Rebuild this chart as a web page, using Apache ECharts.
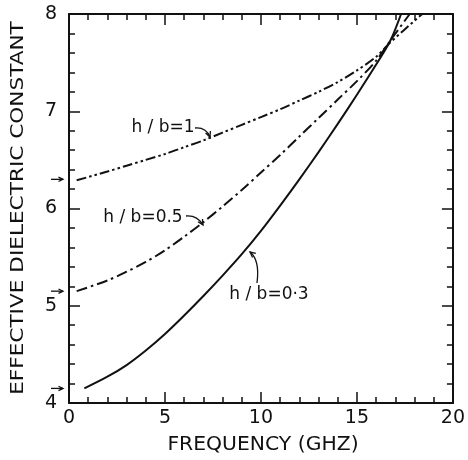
<!DOCTYPE html>
<html>
<head>
<meta charset="utf-8">
<script src="https://cdn.jsdelivr.net/npm/echarts@6/dist/echarts.min.js"></script>
<style>html,body{margin:0;padding:0;background:#fff}#c{width:468px;height:460px}</style>
</head>
<body>
<div id="c"></div>
<script>
// ---- data ----
var freq03 = [0.8, 2, 3, 4, 5, 6, 7, 8, 9, 10, 11, 12, 13, 14, 15, 16, 16.75, 17.3];
var eps03  = [4.15, 4.27, 4.39, 4.54, 4.71, 4.90, 5.10, 5.31, 5.53, 5.77, 6.03, 6.30, 6.58, 6.87, 7.17, 7.48, 7.73, 8.0];
var freq05 = [0.4, 2, 3, 4, 5, 6, 7, 8, 9, 10, 11, 12, 13, 14, 15, 16, 16.75, 17.75];
var eps05  = [5.15, 5.26, 5.35, 5.45, 5.57, 5.71, 5.86, 6.02, 6.19, 6.37, 6.55, 6.74, 6.93, 7.12, 7.31, 7.52, 7.73, 8.0];
var freq1  = [0.4, 2, 3, 4, 5, 6, 7, 8, 9, 10, 11, 12, 13, 14, 15, 16, 16.75, 18.4];
var eps1   = [6.29, 6.38, 6.44, 6.50, 6.56, 6.63, 6.70, 6.78, 6.86, 6.94, 7.02, 7.11, 7.20, 7.30, 7.42, 7.56, 7.71, 8.0];
var staticValues = [6.3, 5.15, 4.15];   // arrows on the y axis (zero-frequency limits)
var xTicks = [0, 5, 10, 15, 20];
var yTicks = [4, 5, 6, 7, 8];
var seriesNames = ['h / b=0·3', 'h / b=0.5', 'h / b=1'];

function zip(a, b) { return a.map(function (v, i) { return [v, b[i]]; }); }

var INK = '#111';
var FONT = 'DejaVu Sans';
var chart = echarts.init(document.getElementById('c'), null, { renderer: 'canvas' });

function axisCommon() {
  return {
    axisLine: { show: true, onZero: false, lineStyle: { color: INK, width: 2 } },
    axisTick: { show: true, inside: true, length: 11, lineStyle: { color: INK, width: 1.5 } },
    minorTick: { show: true, splitNumber: 5, length: 6, lineStyle: { color: INK, width: 1.5 } },
    splitLine: { show: false },
    minorSplitLine: { show: false }
  };
}

var option = {
  animation: false,
  backgroundColor: '#fff',
  grid: { left: 69, right: 10, top: 14, bottom: 57, containLabel: false },
  xAxis: [
    Object.assign({}, axisCommon(), {
      type: 'value', min: xTicks[0], max: xTicks[xTicks.length - 1], interval: 5, position: 'bottom',
      axisLabel: { show: true, margin: 6, color: INK, fontFamily: FONT, fontSize: 19,
        formatter: function (v) { return xTicks.indexOf(v) >= 0 ? String(v) : ''; } }
    }),
    Object.assign({}, axisCommon(), {
      type: 'value', min: xTicks[0], max: xTicks[xTicks.length - 1], interval: 5, position: 'top',
      axisLabel: { show: false }
    })
  ],
  yAxis: [
    Object.assign({}, axisCommon(), {
      type: 'value', min: yTicks[0], max: yTicks[yTicks.length - 1], interval: 1, position: 'left',
      axisLabel: { show: true, margin: 12, color: INK, fontFamily: FONT, fontSize: 19,
        formatter: function (v) { return yTicks.indexOf(v) >= 0 ? String(v) : ''; } }
    }),
    Object.assign({}, axisCommon(), {
      type: 'value', min: yTicks[0], max: yTicks[yTicks.length - 1], interval: 1, position: 'right',
      axisLabel: { show: false }
    })
  ],
  series: [
    { name: seriesNames[0], type: 'line', smooth: 0.3, symbol: 'none', data: zip(freq03, eps03),
      lineStyle: { color: INK, width: 2, type: 'solid' } },
    { name: seriesNames[1], type: 'line', smooth: 0.3, symbol: 'none', data: zip(freq05, eps05),
      lineStyle: { color: INK, width: 2, type: [11, 4, 2.5, 4] } },
    { name: seriesNames[2], type: 'line', smooth: 0.3, symbol: 'none', data: zip(freq1, eps1),
      lineStyle: { color: INK, width: 2, type: [10, 3, 2.5, 3, 2.5, 3] } }
  ]
};
chart.setOption(option);

// ---- annotations (layout) ----
var g = [];
function txt(x, y, s, size, rot, sx) {
  g.push({ type: 'text', x: x, y: y, rotation: rot || 0, scaleX: sx || 1, scaleY: 1,
    style: { text: s, fill: INK, font: size + 'px "' + FONT + '"', align: 'center', verticalAlign: 'middle' } });
}
function arrowHead(tipX, tipY, ang, len) {
  var a1 = ang + Math.PI - 0.45, a2 = ang + Math.PI + 0.45;
  g.push({ type: 'polyline', shape: { points: [
    [tipX + len * Math.cos(a1), tipY + len * Math.sin(a1)], [tipX, tipY],
    [tipX + len * Math.cos(a2), tipY + len * Math.sin(a2)] ] },
    style: { stroke: INK, lineWidth: 1.3, fill: null } });
}
function curvedArrow(p1, cp, p2) {
  g.push({ type: 'bezierCurve', shape: { x1: p1[0], y1: p1[1], cpx1: cp[0], cpy1: cp[1], x2: p2[0], y2: p2[1] },
    style: { stroke: INK, lineWidth: 1.3, fill: null } });
  arrowHead(p2[0], p2[1], Math.atan2(p2[1] - cp[1], p2[0] - cp[0]), 6);
}

// axis titles
txt(18, 208, 'EFFECTIVE DIELECTRIC CONSTANT', 18, Math.PI / 2, 1.2);
txt(263, 445, 'FREQUENCY (GHZ)', 19, 0, 1.07);

// curve labels
txt(163, 128, seriesNames[2], 17, 0);
txt(143, 218, seriesNames[1], 17, 0);
txt(269, 295, seriesNames[0], 17, 0);
curvedArrow([195, 128], [206, 127], [210, 137]);
curvedArrow([186, 216], [197, 215], [203, 225]);
curvedArrow([257, 283], [260, 260], [250, 252]);

// static-limit arrows at the y axis
staticValues.forEach(function (v) {
  var p = chart.convertToPixel({ yAxisIndex: 0 }, v);
  g.push({ type: 'line', shape: { x1: 51, y1: p, x2: 63, y2: p }, style: { stroke: INK, lineWidth: 1.3 } });
  arrowHead(63, p, 0, 5);
});

chart.setOption({ graphic: g });
</script>
</body>
</html>
